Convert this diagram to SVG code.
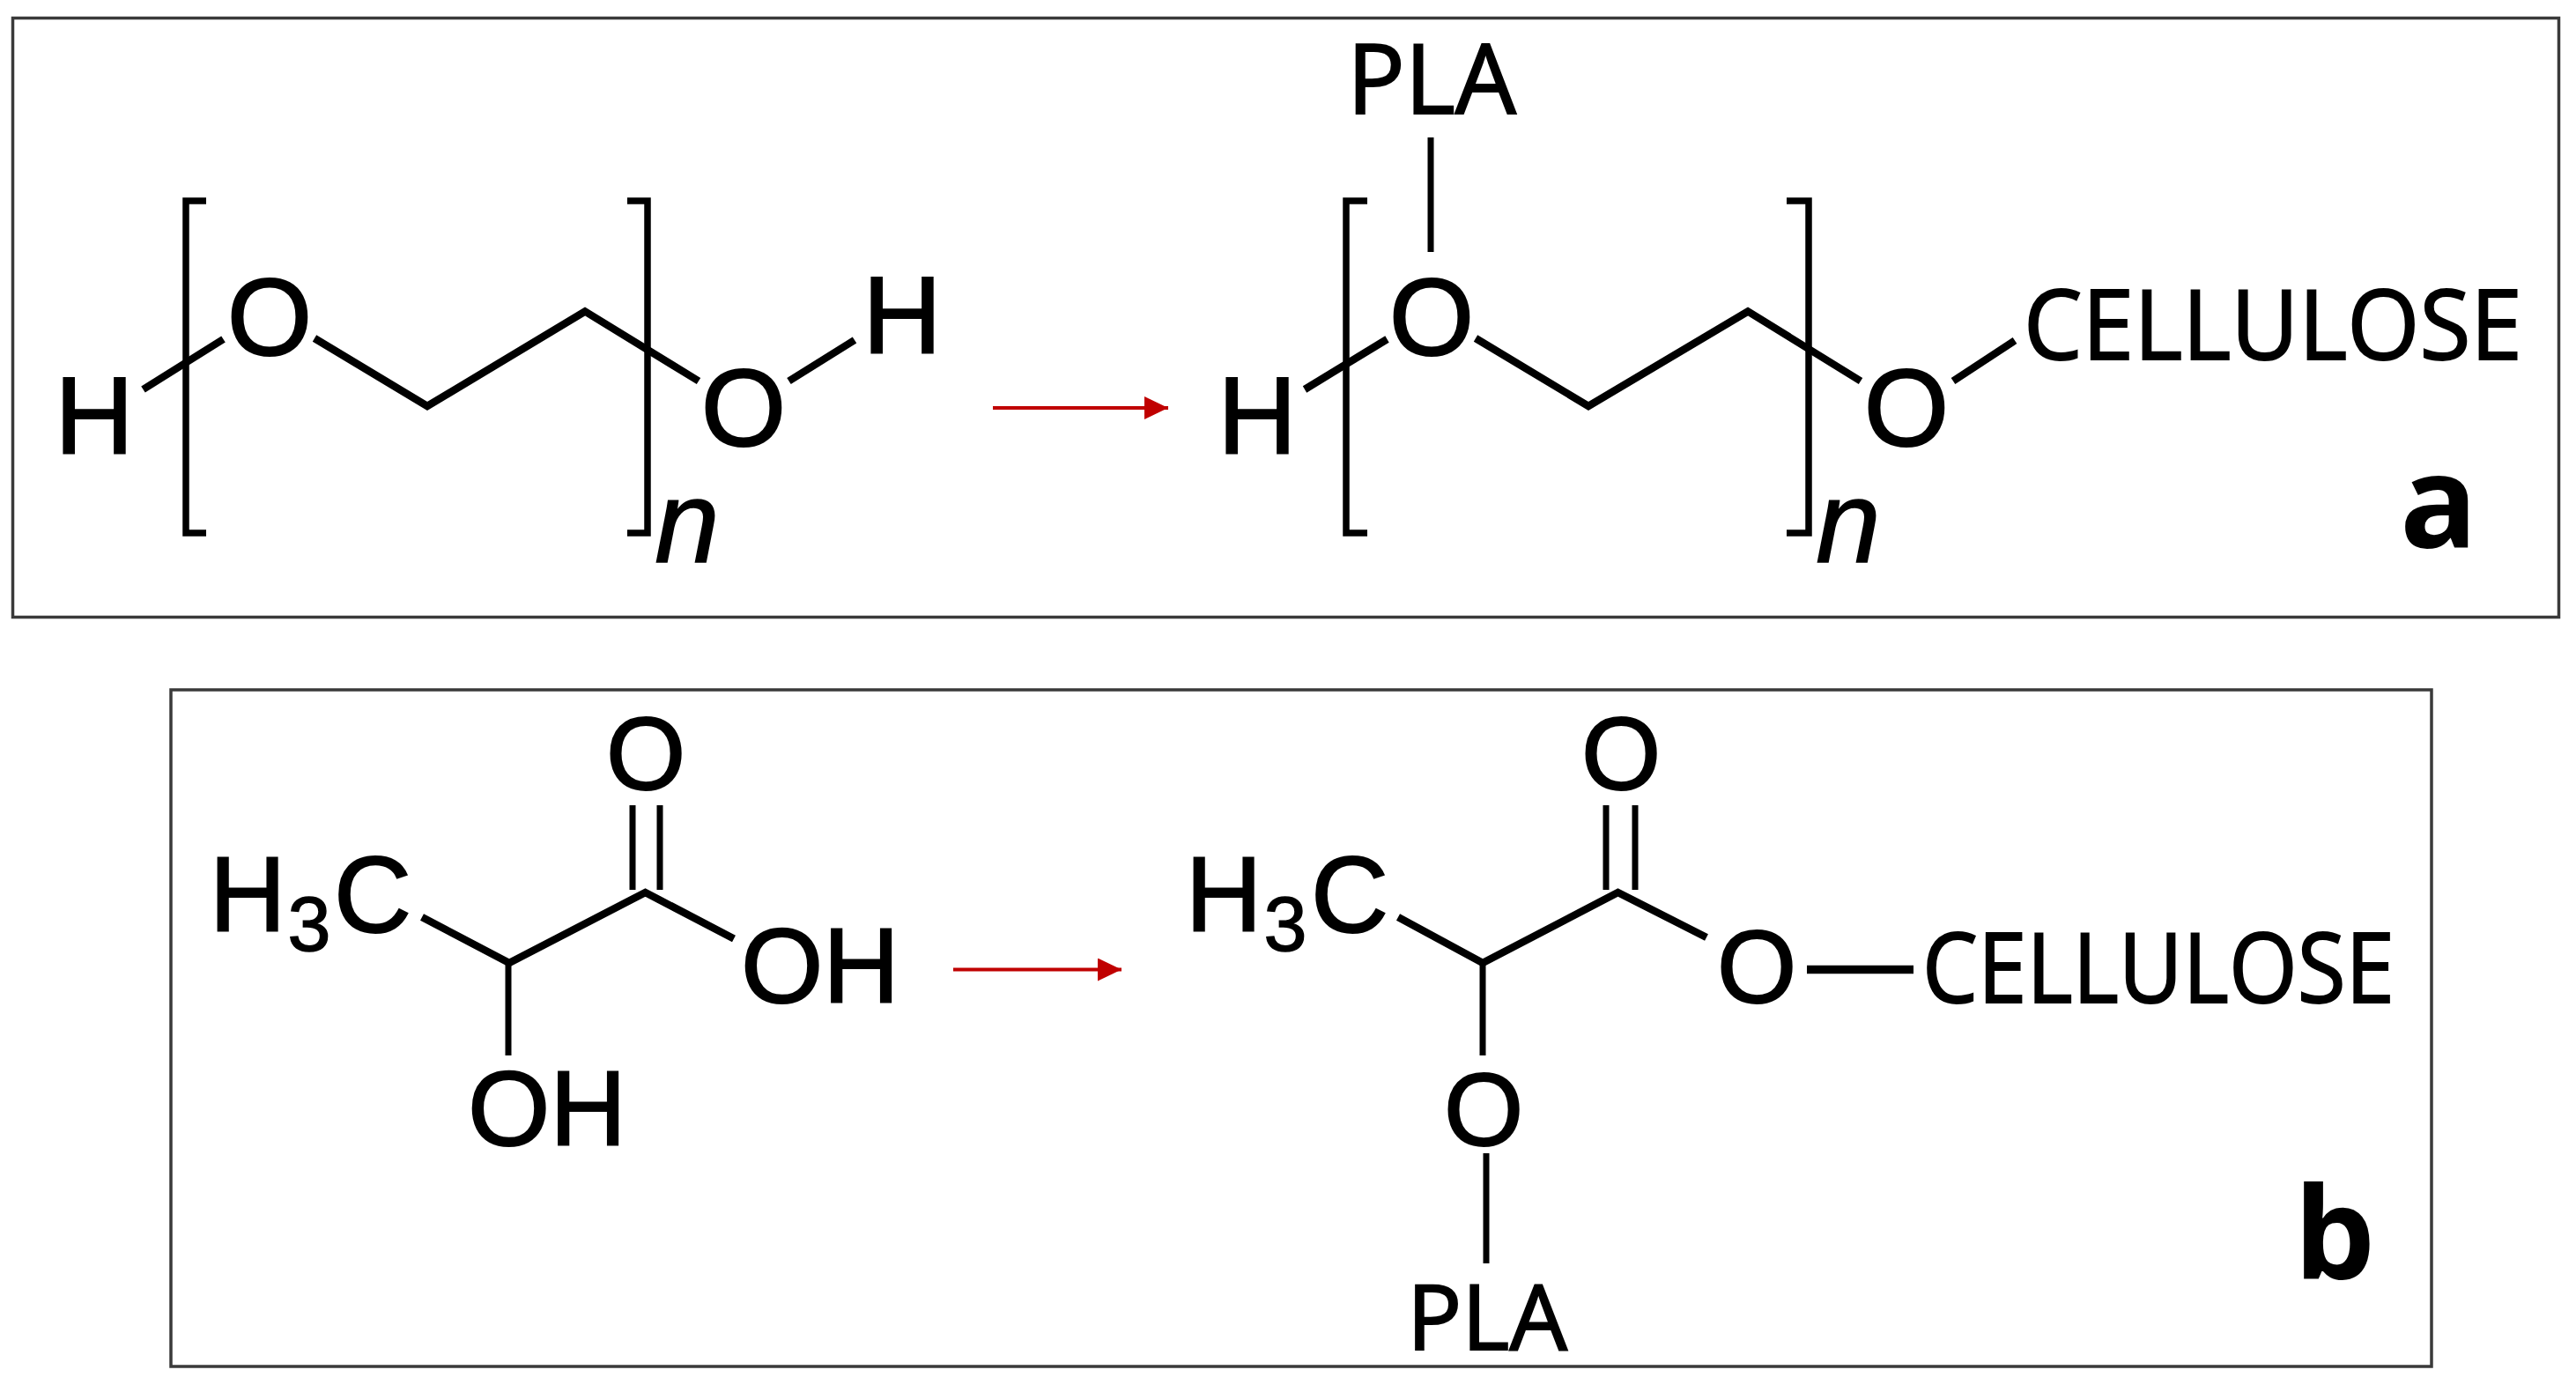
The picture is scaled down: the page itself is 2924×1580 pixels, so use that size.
<svg xmlns="http://www.w3.org/2000/svg" width="2924" height="1580" viewBox="0 0 2924 1580">
<style>
.frame{fill:none;stroke:#3a3a3a;stroke-width:3.5}
.bond{fill:none;stroke:#000;stroke-width:8.500;stroke-linejoin:miter}
.thin{stroke-width:7}
.thick{stroke-width:9.500}
.bracket{fill:none;stroke:#000;stroke-width:7.500}
.arrow{fill:none;stroke:#c00000;stroke-width:4;marker-end:url(#head)}
text{fill:#000;text-anchor:middle;stroke:#000}
.h{font-family:"Liberation Sans",Arial,sans-serif;font-size:124px;stroke-width:2}
.hb{font-family:"Liberation Sans",Arial,sans-serif;font-size:120px;stroke-width:2}
.ob{font-family:"Liberation Sans",Arial,sans-serif;font-size:116px;stroke-width:2}
.c{font-family:"Liberation Sans",Arial,sans-serif;font-size:122px;stroke-width:2}
.sub{font-family:"Liberation Sans",Arial,sans-serif;font-size:88px;stroke-width:1.500}
.n{font-family:"Liberation Sans",Arial,sans-serif;font-size:132px;font-style:italic;stroke-width:1.500}
.o{font-family:"Open Sans",sans-serif;font-size:110px;stroke-width:2}
.p{font-family:"Open Sans",sans-serif;font-size:103px;stroke-width:2}
.lab{font-family:"Open Sans",sans-serif;font-size:146px;font-weight:700;stroke-width:0}
</style>
<defs>
<marker id="head" markerUnits="userSpaceOnUse" markerWidth="28" markerHeight="28" refX="27" refY="13" orient="auto"><path d="M0 0L27 13L0 26Z" fill="#c00000"/></marker>
</defs>
<rect width="2924" height="1580" fill="#fff"/>
<g id="panel-a-frame"><rect class="frame" x="14.500" y="20.500" width="2890" height="680"/></g>
<g id="panel-b-frame"><rect class="frame" x="194" y="783" width="2566" height="768"/></g>
<g id="connectors">
<path class="bond" d="M162.500 442L253.500 385"/>
<path class="bond" d="M357 384L485 461L664 353.500L793 432.500"/>
<path class="bond" d="M895.500 432.500L970 386"/>
<path class="arrow" d="M1127 463H1326"/>
<path class="bond thin" d="M1624 156V286"/>
<path class="bond" d="M1481 442L1574.500 385"/>
<path class="bond" d="M1675 384L1803 461L1984 353.500L2112 432.500"/>
<path class="bond" d="M2217 432.500L2287 386.500"/>
<path class="bond thin" d="M718 914V1010M749 914V1010"/>
<path class="bond" d="M479 1041L578 1093L732.500 1013L833 1065.500"/>
<path class="bond thin" d="M577 1093V1198"/>
<path class="arrow" d="M1082 1100.500H1273"/>
<path class="bond thin" d="M1823 914V1010M1856 914V1010"/>
<path class="bond" d="M1587 1041L1683 1093L1836.500 1013L1937 1064"/>
<path class="bond thin" d="M1683 1093V1198"/>
<path class="bond thick" d="M2051 1100.500H2172"/>
<path class="bond thin" d="M1687 1309V1434"/>
</g>
<g id="peg-left">
<path class="bracket" d="M234 228H211V605H234"/>
<path class="bracket" d="M712 228H735V605H712"/>
<text class="h" x="107" y="515">H</text>
<text class="h" x="306" y="403">O</text>
<text class="h" x="844" y="506">O</text>
<text class="h" x="1024" y="401">H</text>
<text class="n" x="780" y="638">n</text>
</g>
<g id="peg-right">
<path class="bracket" d="M1552 228H1528V605H1552"/>
<path class="bracket" d="M2028 228H2053V605H2028"/>
<text class="o" x="1625" y="129" textLength="192" lengthAdjust="spacingAndGlyphs">PLA</text>
<text class="h" x="1427" y="515">H</text>
<text class="h" x="1625" y="403">O</text>
<text class="h" x="2164" y="506">O</text>
<text class="o" x="2580" y="408" textLength="566" lengthAdjust="spacingAndGlyphs">CELLULOSE</text>
<text class="n" x="2098" y="638">n</text>
</g>
<g id="label-a"><text class="lab" x="2768" y="622">a</text></g>
<g id="lactic-left">
<text class="hb" x="281" y="1057">H</text>
<text class="sub" x="351" y="1079">3</text>
<text class="c" x="423" y="1058">C</text>
<text class="ob" x="733" y="896">O</text>
<text class="hb" x="931" y="1138">OH</text>
<text class="hb" x="621" y="1300">OH</text>
</g>
<g id="lactic-right">
<text class="hb" x="1389" y="1057">H</text>
<text class="sub" x="1459" y="1079">3</text>
<text class="c" x="1532" y="1058">C</text>
<text class="ob" x="1840" y="896">O</text>
<text class="ob" x="1994" y="1138">O</text>
<text class="o" x="2450" y="1138" textLength="536" lengthAdjust="spacingAndGlyphs">CELLULOSE</text>
<text class="ob" x="1684" y="1300">O</text>
<text class="p" x="1688" y="1532" textLength="182" lengthAdjust="spacingAndGlyphs">PLA</text>
</g>
<g id="label-b"><text class="lab" x="2650" y="1452">b</text></g>
</svg>
